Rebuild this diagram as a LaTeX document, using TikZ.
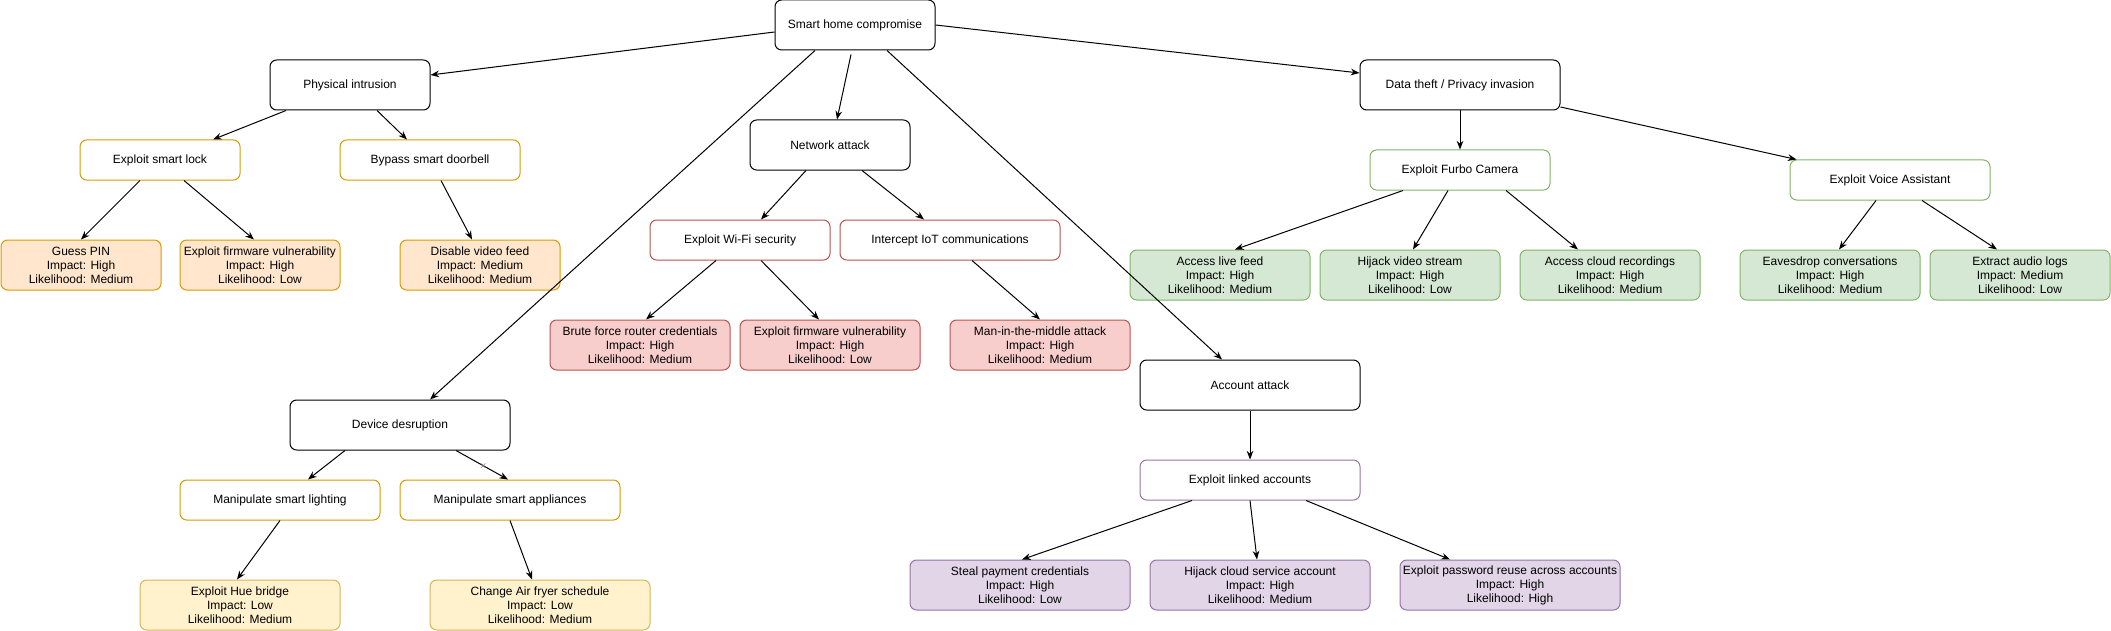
\documentclass[tikz,border=0pt]{standalone}
\usepackage{fontspec}
\setmainfont{Liberation Sans}
\usetikzlibrary{arrows.meta,calc,shapes.misc}

\definecolor{orline}{HTML}{D79B00}
\definecolor{orfill}{HTML}{FFE6CC}
\definecolor{yeline}{HTML}{D6B656}
\definecolor{yefill}{HTML}{FFF2CC}
\definecolor{reline}{HTML}{B85450}
\definecolor{refill}{HTML}{F8CECC}
\definecolor{grline}{HTML}{82B366}
\definecolor{grfill}{HTML}{D5E8D4}
\definecolor{puline}{HTML}{9673A6}
\definecolor{pufill}{HTML}{E1D5E7}

\begin{document}
\begin{tikzpicture}[x=0.75pt,y=-0.75pt,
    box/.style={draw,rounded corners=5pt,align=center,inner sep=0pt,line width=0.75pt,
      font=\fontsize{9}{10.5}\selectfont},
    goal/.style={box,draw=black,fill=white,minimum height=37.5pt},
    sub/.style={box,fill=white,minimum height=30pt},
    leaf/.style={box,minimum height=37.5pt},
    arr/.style={-{Stealth[length=6.5pt,width=5pt]},line width=0.75pt}]
\useasboundingbox (0,0) rectangle (2111,631);

% top of the tree
\node[goal,minimum width=120pt] (home) at (855,25) {Smart home compromise};
\node[goal,minimum width=120pt] (phys) at (350,85) {Physical intrusion};
\node[goal,minimum width=120pt] (net) at (830,145) {Network attack};
\node[goal,minimum width=165pt] (dev) at (400,425) {Device desruption};
\node[goal,minimum width=165pt] (acc) at (1250,385) {Account attack};
\node[goal,minimum width=150pt] (data) at (1460,85) {Data theft / Privacy invasion};

% physical intrusion
\node[sub,draw=orline,minimum width=120pt] (lock) at (160,160) {Exploit smart lock};
\node[sub,draw=orline,minimum width=135pt] (bell) at (430,160) {Bypass smart doorbell};
\node[leaf,draw=orline,fill=orfill,minimum width=120pt] (pin) at (81,265) {Guess PIN\\Impact: High\\Likelihood: Medium};
\node[leaf,draw=orline,fill=orfill,minimum width=120pt] (fwlock) at (260,265) {Exploit firmware vulnerability\\Impact: High\\Likelihood: Low};
\node[leaf,draw=orline,fill=orfill,minimum width=120pt] (video) at (480,265) {Disable video feed\\Impact: Medium\\Likelihood: Medium};

% network attack
\node[sub,draw=reline,minimum width=135pt] (wifi) at (740,240) {Exploit Wi-Fi security};
\node[sub,draw=reline,minimum width=165pt] (iot) at (950,240) {Intercept IoT communications};
\node[leaf,draw=reline,fill=refill,minimum width=135pt] (brute) at (640,345) {Brute force router credentials\\Impact: High\\Likelihood: Medium};
\node[leaf,draw=reline,fill=refill,minimum width=135pt] (fwwifi) at (830,345) {Exploit firmware vulnerability\\Impact: High\\Likelihood: Low};
\node[leaf,draw=reline,fill=refill,minimum width=135pt] (mitm) at (1040,345) {Man-in-the-middle attack\\Impact: High\\Likelihood: Medium};

% device desruption
\node[sub,draw=orline,minimum width=150pt] (light) at (280,500) {Manipulate smart lighting};
\node[sub,draw=orline,minimum width=165pt] (appl) at (510,500) {Manipulate smart appliances};
\node[leaf,draw=yeline,fill=yefill,minimum width=150pt] (hue) at (240,605) {Exploit Hue bridge\\Impact: Low\\Likelihood: Medium};
\node[leaf,draw=yeline,fill=yefill,minimum width=165pt] (fryer) at (540,605) {Change Air fryer schedule\\Impact: Low\\Likelihood: Medium};

% account attack
\node[sub,draw=puline,minimum width=165pt] (linked) at (1250,480) {Exploit linked accounts};
\node[leaf,draw=puline,fill=pufill,minimum width=165pt] (pay) at (1020,585) {Steal payment credentials\\Impact: High\\Likelihood: Low};
\node[leaf,draw=puline,fill=pufill,minimum width=165pt] (cloudacc) at (1260,585) {Hijack cloud service account\\Impact: High\\Likelihood: Medium};
\node[leaf,draw=puline,fill=pufill,minimum width=165pt] (reuse) at (1510,585) {Exploit password reuse across accounts\\Impact: High\\Likelihood: High};

% data theft
\node[sub,draw=grline,minimum width=135pt] (furbo) at (1460,170) {Exploit Furbo Camera};
\node[sub,draw=grline,minimum width=150pt] (voice) at (1890,180) {Exploit Voice Assistant};
\node[leaf,draw=grline,fill=grfill,minimum width=135pt] (live) at (1220,275) {Access live feed\\Impact: High\\Likelihood: Medium};
\node[leaf,draw=grline,fill=grfill,minimum width=135pt] (stream) at (1410,275) {Hijack video stream\\Impact: High\\Likelihood: Low};
\node[leaf,draw=grline,fill=grfill,minimum width=135pt] (rec) at (1610,275) {Access cloud recordings\\Impact: High\\Likelihood: Medium};
\node[leaf,draw=grline,fill=grfill,minimum width=135pt] (eaves) at (1830,275) {Eavesdrop conversations\\Impact: High\\Likelihood: Medium};
\node[leaf,draw=grline,fill=grfill,minimum width=135pt] (audio) at (2020,275) {Extract audio logs\\Impact: Medium\\Likelihood: Low};

% edges from the root
\draw[arr] ($(home.west)+(0,7)$) -- ($(phys.east)+(0,-10)$);
\draw[arr] (home.east) -- ($(data.west)+(0,-12)$);
\draw[arr] ($(home.south)+(-4,4)$) -- ($(net.north)+(7,0)$);
\draw[arr] ($(home.south)+(-40,0)$) -- ($(dev.north)+(30,0)$);
\draw[arr] ($(home.south)+(32,0)$) -- ($(acc.north)+(-28,0)$);

% physical intrusion
\draw[arr] ($(phys.south)+(-64,0)$) -- ($(lock.north)+(53,0)$);
\draw[arr] ($(phys.south)+(27,0)$) -- ($(bell.north)+(-23,0)$);
\draw[arr] ($(lock.south)+(-20,0)$) -- (pin.north);
\draw[arr] ($(lock.south)+(24,0)$) -- ($(fwlock.north)+(-6,0)$);
\draw[arr] ($(bell.south)+(11,0)$) -- ($(video.north)+(-8,0)$);

% network attack
\draw[arr] ($(net.south)+(-24,0)$) -- ($(wifi.north)+(21,0)$);
\draw[arr] ($(net.south)+(32,0)$) -- ($(iot.north)+(-26,0)$);
\draw[arr] ($(wifi.south)+(-24,0)$) -- ($(brute.north)+(6,0)$);
\draw[arr] ($(wifi.south)+(21,0)$) -- ($(fwwifi.north)+(-11,0)$);
\draw[arr] ($(iot.south)+(22,0)$) -- (mitm.north);

% device desruption
\draw[arr] ($(dev.south)+(-55,0)$) -- ($(light.north)+(28,0)$);
\draw[arr] ($(dev.south)+(56,0)$) -- node[pos=.52,cross out,draw=gray,line width=0.4pt,
  minimum size=3pt,inner sep=0pt] (tick) {} ($(appl.north)+(-2,0)$);
\draw[arr] (light.south) -- ($(hue.north)+(-3,0)$);
\draw[arr] (appl.south) -- ($(fryer.north)+(-8,0)$);

% account attack
\draw[arr] (acc.south) -- (linked.north);
\draw[arr] ($(linked.south)+(-58,0)$) -- ($(pay.north)+(2,0)$);
\draw[arr] (linked.south) -- ($(cloudacc.north)+(-3,0)$);
\draw[arr] ($(linked.south)+(56,0)$) -- ($(reuse.north)+(-60,0)$);

% data theft
\draw[arr] (data.south) -- (furbo.north);
\draw[arr] ($(data.east)+(0,22)$) -- ($(voice.north west)+(7,0)$);
\draw[arr] ($(furbo.south)+(-57,0)$) -- ($(live.north)+(15,0)$);
\draw[arr] ($(furbo.south)+(-12,0)$) -- ($(stream.north)+(3,0)$);
\draw[arr] ($(furbo.south)+(46,0)$) -- ($(rec.north)+(-32,0)$);
\draw[arr] ($(voice.south)+(-14,0)$) -- ($(eaves.north)+(9,0)$);
\draw[arr] ($(voice.south)+(32,0)$) -- ($(audio.north)+(-23,0)$);
\end{tikzpicture}
\end{document}
